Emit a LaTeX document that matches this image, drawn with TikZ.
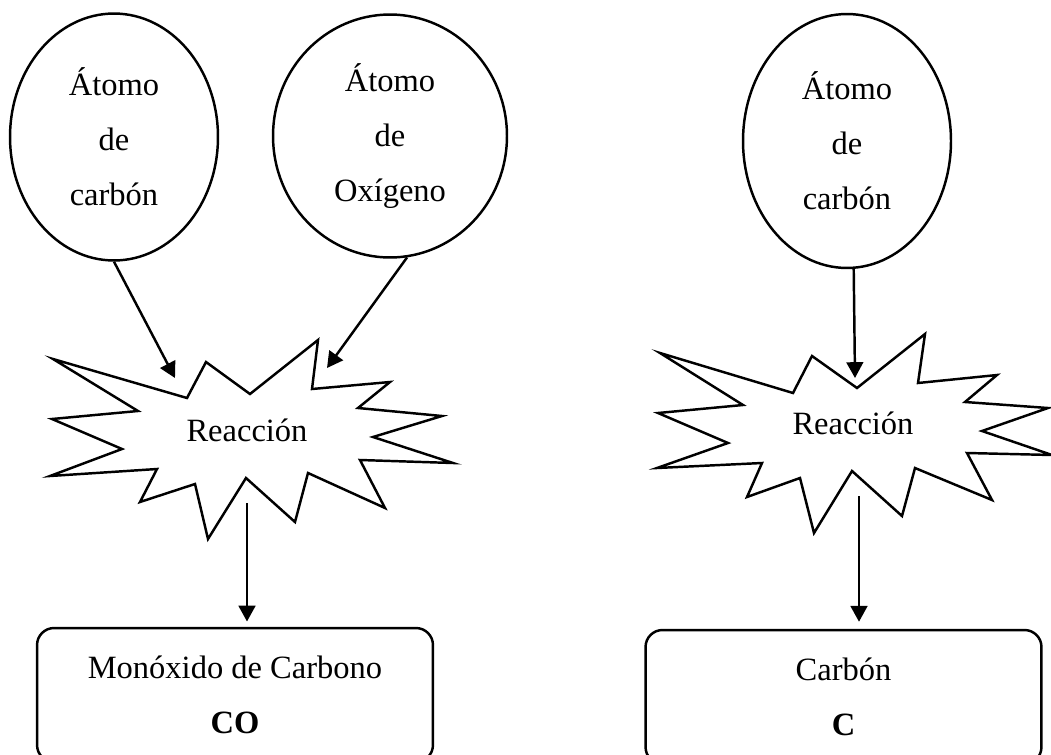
\documentclass[tikz,border=0pt]{standalone}
\usepackage{fontspec}
\setmainfont{Liberation Serif}
\usetikzlibrary{arrows.meta,shapes.geometric}

\begin{document}
\begin{tikzpicture}[x=0.02cm, y=-0.02cm, line width=1.4pt,
    font=\fontsize{18.5}{31.3}\selectfont]
    \tikzstyle{atomo}=[ellipse, draw, inner sep=0pt, align=center]
    \tikzstyle{caja}=[rectangle, draw, rounded corners=0.34cm, align=center,
      minimum width=7.92cm, minimum height=2.68cm]
    \tikzstyle{flecha}=[-{Triangle[length=9pt,width=9.5pt]}]
    \tikzstyle{borde}=[draw, line join=miter]

    \useasboundingbox (0,0) rectangle (1051,754);

    \node[atomo, minimum width=4.16cm, minimum height=4.94cm] (C1) at (114,137)
      {Átomo\\de\\carbón};
    \node[atomo, minimum width=4.68cm, minimum height=4.86cm] (O1) at (390,136)
      {Átomo\\de\\Oxígeno};
    \node[atomo, minimum width=4.16cm, minimum height=5.08cm] (C2) at (847,141)
      {Átomo\\de\\carbón};

    % las explosiones...
    \draw[borde] (53,359) -- (187,398) -- (206,362) -- (250,394) -- (318,340)
      -- (312,389) -- (390,382) -- (358,408) -- (442,416) -- (373,437)
      -- (453,463) -- (360,460) -- (385,508) -- (308,473) -- (295,522)
      -- (246,478) -- (208,539) -- (195,484) -- (140,502) -- (157,469)
      -- (50,476) -- (122,449) -- (52,419) -- (138,411) -- cycle;
    \draw[borde] (660,353) -- (793,393) -- (812,356) -- (857,388) -- (925,334)
      -- (918,383) -- (997,375) -- (965,402) -- (1048,408) -- (982,431)
      -- (1052,455) -- (967,453) -- (992,500) -- (915,468) -- (902,516)
      -- (852,471) -- (814,533) -- (800,478) -- (747,497) -- (762,463)
      -- (657,468) -- (728,443) -- (658,413) -- (743,405) -- cycle;
    \node (R1) at (247,430) {Reacción};
    \node (R2) at (853,423) {Reacción};

    \node[caja] (CO) at (235,695) {Monóxido de Carbono\\\textbf{CO}};
    \node[caja] (C) at (843.5,697) {Carbón\\\textbf{C}};

    % las flechas...
    \coordinate (p1) at (175,378);
    \coordinate (p2) at (327,368);
    \coordinate (p3) at (855,378);
    \coordinate (q1) at (247,503);
    \coordinate (q2) at (859,496);

    \draw[flecha] (C1.south) -- (p1);
    \draw[flecha] (O1.-82) -- (p2);
    \draw[flecha] (C2.-87) -- (p3);
    \draw[flecha, shorten >=3pt] (q1) -- (q1 |- CO.north);
    \draw[flecha, shorten >=4pt] (q2) -- (q2 |- C.north);
\end{tikzpicture}
\end{document}
